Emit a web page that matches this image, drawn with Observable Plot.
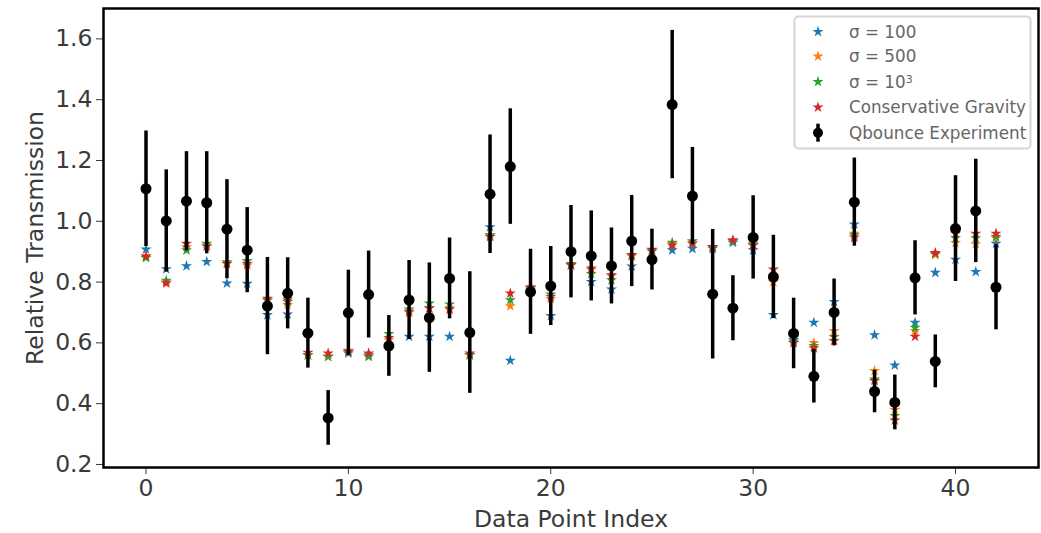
<!DOCTYPE html>
<html><head><meta charset="utf-8">
<script src="https://cdn.jsdelivr.net/npm/d3@7"></script>
<script src="https://cdn.jsdelivr.net/npm/@observablehq/plot@0.6"></script>
<style>
body{margin:0;background:#fff}
#chart svg{font-family:"DejaVu Sans",sans-serif}
</style>
</head><body><div id="chart"></div>
<script>
// ---- data ----
const pointIndex = [0,1,2,3,4,5,6,7,8,9,10,11,12,13,14,15,16,17,18,19,20,21,22,23,24,25,26,27,28,29,30,31,32,33,34,35,36,37,38,39,40,41,42];
const experiment = [1.107,1.001,1.066,1.061,0.974,0.905,0.721,0.763,0.632,0.353,0.699,0.759,0.590,0.741,0.683,0.812,0.634,1.089,1.180,0.768,0.787,0.900,0.886,0.853,0.935,0.874,1.384,1.083,0.760,0.714,0.947,0.817,0.631,0.490,0.700,1.063,0.440,0.404,0.814,0.539,0.976,1.034,0.783];
const experimentErr = [0.190,0.168,0.163,0.168,0.163,0.140,0.160,0.117,0.115,0.090,0.140,0.143,0.100,0.130,0.180,0.133,0.200,0.195,0.190,0.140,0.130,0.152,0.148,0.125,0.150,0.100,0.244,0.160,0.213,0.107,0.137,0.137,0.116,0.088,0.110,0.145,0.070,0.090,0.122,0.087,0.174,0.170,0.140];
const sigma100 = [0.908,0.843,0.853,0.867,0.796,0.795,0.692,0.694,0.560,0.555,0.566,0.560,0.590,0.621,0.621,0.621,0.560,0.981,0.542,0.775,0.689,0.856,0.801,0.776,0.852,0.900,0.905,0.910,0.910,0.930,0.905,0.692,0.610,0.667,0.735,0.990,0.626,0.526,0.667,0.831,0.874,0.834,0.927];
const sigma500 = [0.885,0.800,0.915,0.920,0.860,0.855,0.740,0.725,0.560,0.555,0.575,0.555,0.610,0.700,0.715,0.715,0.560,0.955,0.721,0.780,0.745,0.855,0.840,0.820,0.885,0.905,0.925,0.930,0.915,0.935,0.920,0.800,0.600,0.600,0.639,0.960,0.508,0.380,0.640,0.890,0.929,0.925,0.945];
const sigma1000 = [0.880,0.805,0.905,0.927,0.866,0.870,0.740,0.735,0.560,0.555,0.570,0.555,0.630,0.710,0.730,0.727,0.560,0.955,0.741,0.780,0.760,0.860,0.827,0.807,0.890,0.905,0.930,0.935,0.915,0.935,0.925,0.820,0.605,0.590,0.620,0.955,0.480,0.360,0.650,0.893,0.945,0.945,0.950];
const conservative = [0.885,0.796,0.927,0.918,0.861,0.861,0.746,0.741,0.568,0.566,0.572,0.566,0.617,0.703,0.714,0.710,0.566,0.949,0.763,0.784,0.752,0.856,0.845,0.823,0.889,0.907,0.921,0.927,0.916,0.938,0.921,0.842,0.600,0.583,0.607,0.947,0.475,0.345,0.621,0.896,0.960,0.960,0.960];
const xTicks = [0,10,20,30,40];
const yTicks = [0.2,0.4,0.6,0.8,1.0,1.2,1.4,1.6];
const seriesNames = ["σ = 100","σ = 500","σ = 10","Conservative Gravity","Qbounce Experiment"];
const seriesColors = ["#1f77b4","#ff7f0e","#2ca02c","#d62728","#000000"];

// ---- tables ----
const rowsOf = (vals) => pointIndex.map((i, k) => ({x: i, y: vals[k]}));
const expRows = pointIndex.map((i, k) => ({x: i, y: experiment[k], lo: experiment[k] - experimentErr[k], hi: experiment[k] + experimentErr[k]}));
const starR = 3.5;
const FS = 23.5;

const chart = Plot.plot({
  width: 1041,
  height: 533,
  marginLeft: 103,
  marginRight: 3,
  marginTop: 8,
  marginBottom: 66,
  style: {fontFamily: "DejaVu Sans, sans-serif", fontSize: FS + "px", color: "#3a3a3a", background: "#fff"},
  x: {domain: [-2.1, 44.1], ticks: xTicks, tickSize: 7, tickPadding: 5, label: null, tickFormat: d3.format("d")},
  y: {domain: [0.19, 1.70], ticks: yTicks, tickSize: 7, tickPadding: 4, label: null, tickFormat: d3.format(".1f")},
  marks: [
    Plot.dot(rowsOf(sigma100), {x: "x", y: "y", symbol: "star", r: starR, fill: seriesColors[0], stroke: "none"}),
    Plot.dot(rowsOf(sigma500), {x: "x", y: "y", symbol: "star", r: starR, fill: seriesColors[1], stroke: "none"}),
    Plot.dot(rowsOf(sigma1000), {x: "x", y: "y", symbol: "star", r: starR, fill: seriesColors[2], stroke: "none"}),
    Plot.dot(rowsOf(conservative), {x: "x", y: "y", symbol: "star", r: starR, fill: seriesColors[3], stroke: "none"}),
    Plot.ruleX(expRows, {x: "x", y1: "lo", y2: "hi", stroke: "black", strokeWidth: 3.5}),
    Plot.dot(expRows, {x: "x", y: "y", r: 5.5, fill: "black", stroke: "none"}),
    Plot.frame({stroke: "black", strokeWidth: 2.5}),
    Plot.text(["Data Point Index"], {frameAnchor: "bottom", dy: 52, text: d => d, textAnchor: "middle", lineAnchor: "middle", fontSize: FS, fill: "#3a3a3a"}),
    Plot.text(["Relative Transmission"], {frameAnchor: "left", dx: -68, rotate: -90, text: d => d, textAnchor: "middle", lineAnchor: "middle", fontSize: FS, fill: "#3a3a3a"})
  ]
});
document.getElementById("chart").appendChild(chart);

// ---- legend ----
const svg = d3.select(chart.tagName.toLowerCase() === "svg" ? chart : chart.querySelector("svg"));
const lg = svg.append("g").attr("class", "legend").attr("text-anchor", "start");
lg.append("rect").attr("x", 794.5).attr("y", 16.5).attr("width", 236).attr("height", 132)
  .attr("rx", 4).attr("fill", "white").attr("fill-opacity", 0.85).attr("stroke", "#d6d6d6").attr("stroke-width", 2);
const rowY = [31.7, 56.3, 81.7, 107.3, 132.7];
const starPath = d3.symbol(d3.symbolStar, Math.PI * starR * starR)();
seriesNames.forEach((name, k) => {
  const y = rowY[k];
  if (k < 4) {
    lg.append("path").attr("d", starPath).attr("transform", `translate(818,${y})`).attr("fill", seriesColors[k]);
  } else {
    lg.append("line").attr("x1", 818).attr("x2", 818).attr("y1", y - 9).attr("y2", y + 9).attr("stroke", "black").attr("stroke-width", 3.5);
    lg.append("circle").attr("cx", 818).attr("cy", y).attr("r", 5).attr("fill", "black");
  }
  const t = lg.append("text").attr("x", 849).attr("y", y).attr("dy", "0.36em").attr("text-anchor", "start")
    .attr("font-size", 16.8).attr("fill", "#666").attr("font-family", "DejaVu Sans, sans-serif").text(name);
  if (k === 2) t.append("tspan").attr("dy", "-0.45em").attr("font-size", 11).text("3");
});
</script>
</body></html>
